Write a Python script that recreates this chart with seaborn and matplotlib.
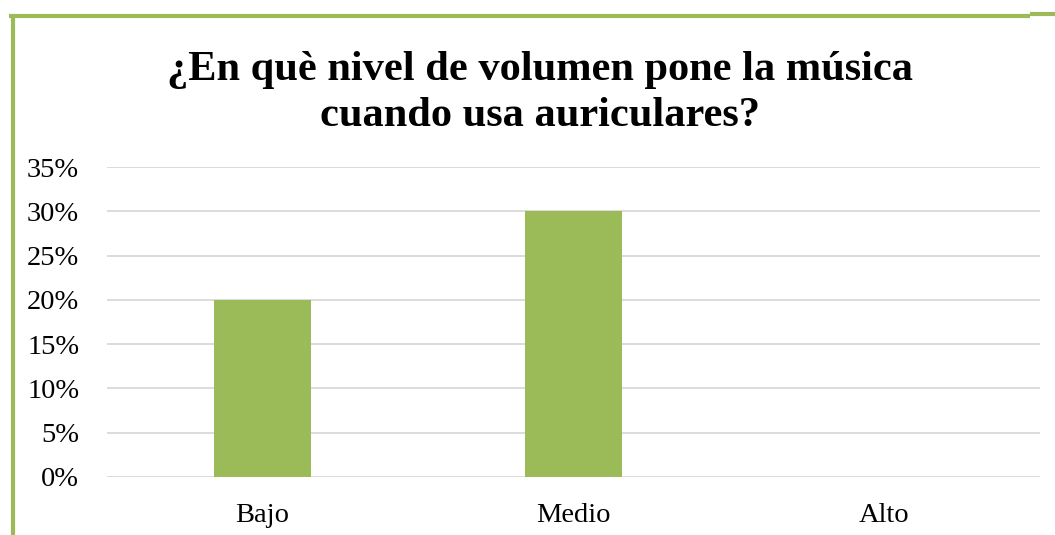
import matplotlib
matplotlib.use("Agg")
import matplotlib.pyplot as plt
from matplotlib.lines import Line2D
import seaborn as sns
import pandas as pd

categories = ["Bajo", "Medio", "Alto"]
values = [0.20, 0.30, 0.0]
yticks = [0, 0.05, 0.10, 0.15, 0.20, 0.25, 0.30, 0.35]
title = "¿En què nivel de volumen pone la música\ncuando usa auriculares?"

sns.set_theme(style="white")
plt.rcParams["font.family"] = ["Liberation Serif", "DejaVu Serif"]
plt.rcParams["text.color"] = "black"
plt.rcParams["xtick.color"] = "black"
plt.rcParams["ytick.color"] = "black"

W, H = 1055, 535
fig = plt.figure(figsize=(W / 100, H / 100), dpi=100)
ax = fig.add_axes([107 / W, 1 - 477 / H, (1040 - 107) / W, (477 - 167) / H])

df = pd.DataFrame({"nivel": categories, "pct": values})
sns.barplot(data=df, x="nivel", y="pct", color="#9BBB59", saturation=1,
            width=0.31, linewidth=0, ax=ax)

ax.set_ylim(0, 0.35)
ax.set_yticks(yticks)
ax.set_yticklabels([f"{int(round(t * 100))}%" for t in yticks], fontsize=20.5)
ax.tick_params(axis="x", labelsize=20.5, labelcolor="black", pad=19, length=0)
ax.tick_params(axis="y", labelcolor="black", pad=20, length=0)
ax.set_xlabel("")
ax.set_ylabel("")
ax.grid(axis="y", color="#D9D9D9", linewidth=1.3)
ax.set_axisbelow(True)
for s in ax.spines.values():
    s.set_visible(False)

fig.text(540 / W, 1 - 93 / H, title, ha="center", va="center", color="black",
         fontsize=30.5, fontweight="bold", linespacing=1.3)

# green frame fragments (top and left)
green = "#9BBB59"
kw = dict(color=green, linewidth=3, solid_capstyle="butt", transform=fig.transFigure)
fig.add_artist(Line2D([9 / W, 1030 / W], [1 - 16 / H, 1 - 16 / H], **kw))
fig.add_artist(Line2D([1030 / W, 1.0], [1 - 14 / H, 1 - 14 / H], **kw))
fig.add_artist(Line2D([13 / W, 13 / W], [1 - 14 / H, 0], **kw))

fig.savefig("out.png", dpi=100, facecolor="white")
